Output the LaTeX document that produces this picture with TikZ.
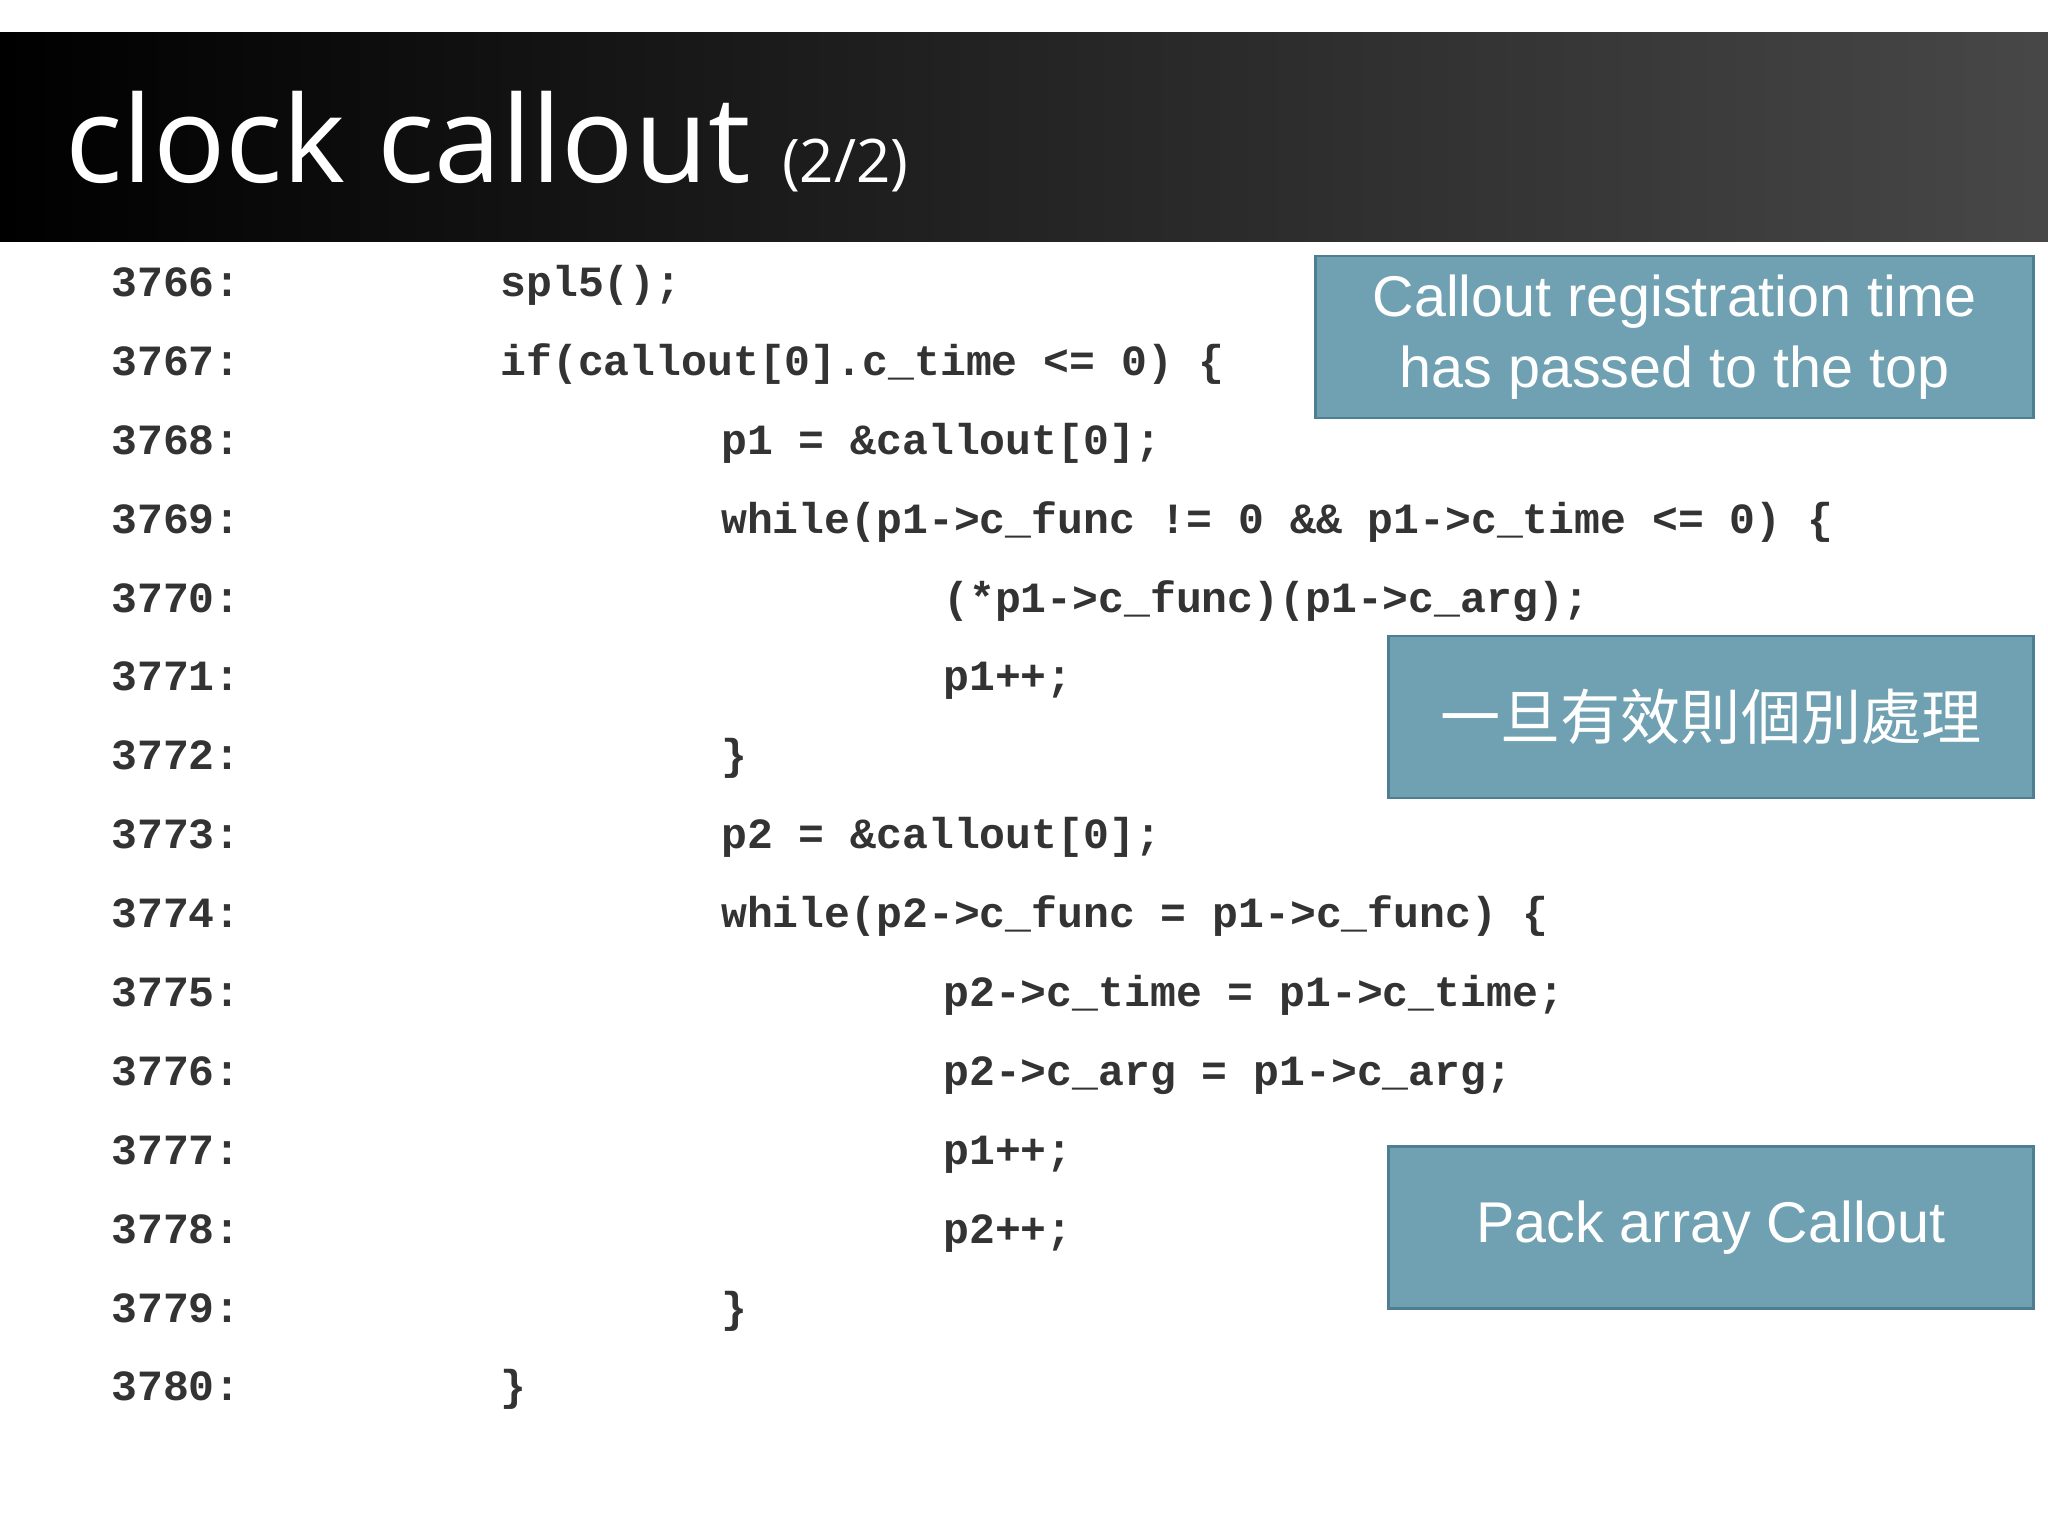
\documentclass[tikz,border=0pt]{standalone}
\usepackage{fontspec}
\setmainfont{Open Sans}
\newfontfamily\boxfont{Liberation Sans}
\newfontfamily\codefont{Liberation Mono}
\newfontfamily\cjk{Noto Sans CJK TC}
\definecolor{codegray}{HTML}{333333}
\definecolor{boxfill}{HTML}{6FA1B2}
\definecolor{boxline}{HTML}{4E7E92}
\begin{document}
\begin{tikzpicture}[x=1pt,y=-1pt,
  code/.style={anchor=base west,inner sep=0pt,text=codegray,font=\codefont\bfseries\fontsize{33}{33}\selectfont},
  callbox/.style={draw=boxline,line width=2pt,fill=boxfill,text=white,align=center,minimum height=124pt}]
\useasboundingbox (0,0) rectangle (1568,1175);
\fill[white] (0,0) rectangle (1568,1175);
\shade[left color=black,right color=black!72] (0,25) rectangle (1568,185);
\node[anchor=base west,text=white,inner sep=0pt,font=\fontsize{92}{92}\selectfont] (title) at (50,140) {clock callout {\fontsize{46}{46}\selectfont(2/2)}};
% code lines
\foreach \n/\x/\t [count=\i from 0] in {
 3766/383/{spl5();},
 3767/383/{if(callout[0].c\_time <= 0) \{},
 3768/552/{p1 = \&callout[0];},
 3769/552/{while(p1->c\_func != 0 \&\& p1->c\_time <= 0) \{},
 3770/722/{(*p1->c\_func)(p1->c\_arg);},
 3771/722/{p1++;},
 3772/552/{\}},
 3773/552/{p2 = \&callout[0];},
 3774/552/{while(p2->c\_func = p1->c\_func) \{},
 3775/722/{p2->c\_time = p1->c\_time;},
 3776/722/{p2->c\_arg = p1->c\_arg;},
 3777/722/{p1++;},
 3778/722/{p2++;},
 3779/552/{\}},
 3780/383/{\}}}{
  \node[code] (ln\n) at (85,{227+60.4*\i}) {\n:};
  \node[code] (cd\n) at (\x,{227+60.4*\i}) {\t};
}
\node[callbox,minimum width=550pt,font=\boxfont\fontsize{44}{54}\selectfont] (b1) at (1282,258) {Callout registration time\\has passed to the top};
\node[callbox,minimum width=494pt,font=\cjk\fontsize{46}{46}\selectfont] (b2) at (1310,549) {一旦有效則個別處理};
\node[callbox,minimum width=494pt,font=\boxfont\fontsize{44}{44}\selectfont] (b3) at (1310,940) {Pack array Callout};
\end{tikzpicture}
\end{document}
